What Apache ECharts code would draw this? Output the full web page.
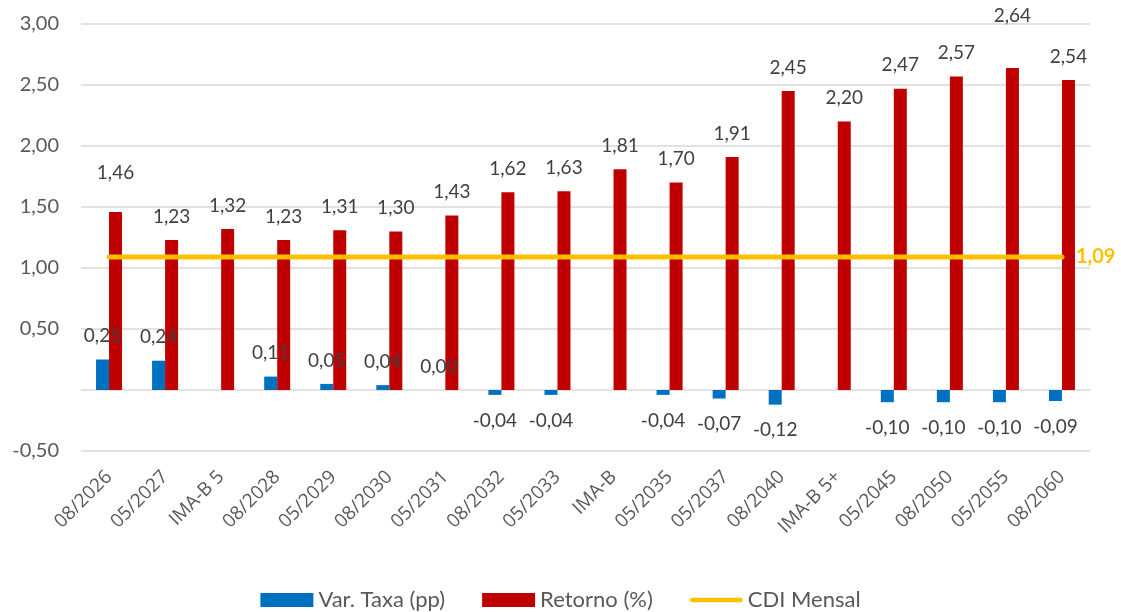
<!DOCTYPE html>
<html>
<head>
<meta charset="utf-8">
<title>Var. Taxa x Retorno</title>
<script src="https://cdn.jsdelivr.net/npm/echarts@6/dist/echarts.min.js"></script>
<style>
  html, body { margin: 0; padding: 0; background: #fff; }
  #chart { width: 1121px; height: 612px; }
</style>
</head>
<body>
<div id="chart"></div>
<script>
const categories = ['08/2026', '05/2027', 'IMA-B 5', '08/2028', '05/2029', '08/2030', '05/2031', '08/2032', '05/2033',
  'IMA-B', '05/2035', '05/2037', '08/2040', 'IMA-B 5+', '05/2045', '08/2050', '05/2055', '08/2060'];
const varTaxa = [0.25, 0.24, null, 0.11, 0.05, 0.04, 0.00, -0.04, -0.04,
  null, -0.04, -0.07, -0.12, null, -0.10, -0.10, -0.10, -0.09];
const retorno = [1.46, 1.23, 1.32, 1.23, 1.31, 1.30, 1.43, 1.62, 1.63,
  1.81, 1.70, 1.91, 2.45, 2.20, 2.47, 2.57, 2.64, 2.54];
const cdiMensal = 1.09;
const yTicks = { min: -0.5, max: 3, interval: 0.5 };

const fmt = v => v.toFixed(2).replace('.', ',');
const FONT = 'Lato';

// labels Excel moved upward to dodge neighbours
const raised = { 0: 16, 16: 29 };

const chart = echarts.init(document.getElementById('chart'));

chart.setOption({
  animation: false,
  textStyle: { fontFamily: FONT },
  grid: { left: 81, right: 31, top: 24, bottom: 161, containLabel: false },
  legend: {
    top: 589,
    left: 'center',
    padding: 0,
    itemWidth: 53,
    itemHeight: 14,
    itemGap: 37,
    textStyle: { fontFamily: FONT, fontSize: 22, color: '#595959' },
    data: [
      { name: 'Var. Taxa (pp)', icon: 'rect' },
      { name: 'Retorno (%)', icon: 'rect' },
      { name: 'CDI Mensal', icon: 'path://M2.5,0 L53.5,0 A2.5,2.5 0 0 1 53.5,5 L2.5,5 A2.5,2.5 0 0 1 2.5,0 Z' }
    ]
  },
  xAxis: {
    type: 'category',
    data: categories,
    axisLine: { show: false },
    axisTick: { show: false },
    axisLabel: {
      interval: 0,
      rotate: 45,
      margin: 23,
      fontFamily: 'Open Sans',
      fontSize: 19,
      color: '#595959'
    }
  },
  yAxis: {
    type: 'value',
    min: yTicks.min,
    max: yTicks.max,
    interval: yTicks.interval,
    axisLine: { show: false },
    axisTick: { show: false },
    splitLine: { lineStyle: { color: '#d9d9d9', width: 1.5 } },
    axisLabel: {
      fontFamily: FONT,
      fontSize: 20,
      color: '#595959',
      margin: 22,
      formatter: v => (Math.abs(v) < 1e-9 ? '' : fmt(v))
    }
  },
  series: [
    {
      name: 'Var. Taxa (pp)',
      type: 'bar',
      barWidth: 13,
      barGap: '0%',
      itemStyle: { color: '#0070C0' },
      data: varTaxa.map(v => v === null ? null : {
        value: v,
        label: { position: v < 0 ? 'bottom' : 'top', distance: v < 0 ? 16 : 14 }
      }),
      label: {
        show: true,
        fontFamily: FONT,
        fontSize: 19,
        color: '#404040',
        formatter: p => (p.value === null || p.value === undefined ? '' : fmt(p.value))
      }
    },
    {
      name: 'Retorno (%)',
      type: 'bar',
      barWidth: 13,
      barGap: '0%',
      itemStyle: { color: '#C00000' },
      data: retorno.map((v, i) => ({
        value: v,
        label: { distance: 14 + (raised[i] || 0) }
      })),
      label: {
        show: true,
        position: 'top',
        fontFamily: FONT,
        fontSize: 19,
        color: '#404040',
        formatter: p => fmt(p.value)
      }
    },
    {
      name: 'CDI Mensal',
      type: 'line',
      symbol: 'none',
      z: 5,
      lineStyle: { color: '#FFC000', width: 5, cap: 'round' },
      itemStyle: { color: '#FFC000' },
      data: categories.map(() => cdiMensal),
      endLabel: {
        show: true,
        distance: 14,
        fontFamily: FONT,
        fontSize: 20,
        fontWeight: 'bold',
        color: '#FFC000',
        formatter: p => fmt(p.value)
      }
    }
  ]
});
</script>
</body>
</html>
